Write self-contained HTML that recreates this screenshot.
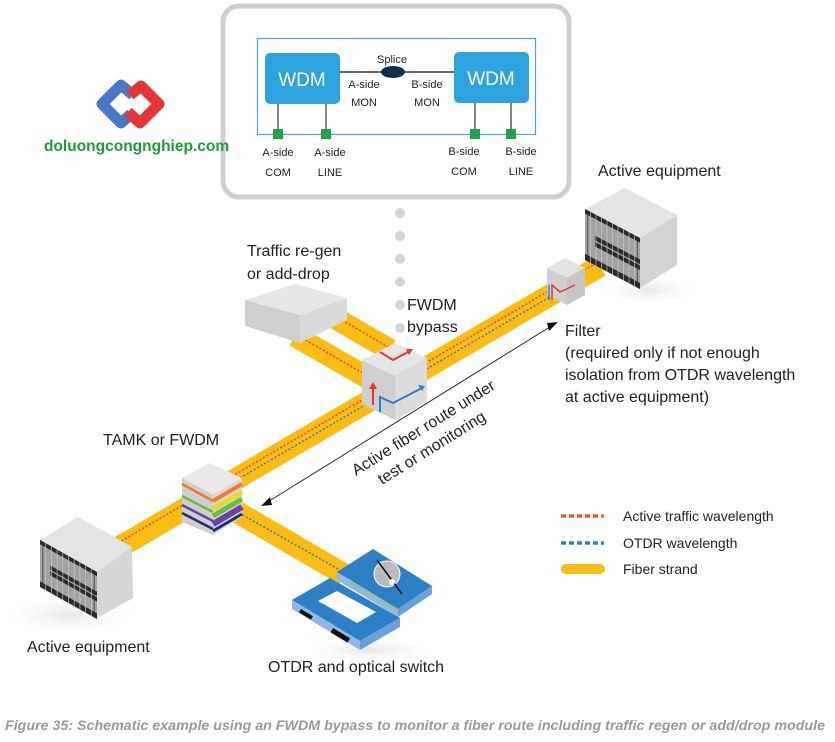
<!DOCTYPE html>
<html><head><meta charset="utf-8"><style>
html,body{margin:0;padding:0;background:#fff}
svg{display:block}
text{font-family:"Liberation Sans",sans-serif;fill:#222}
</style></head><body>
<svg width="835" height="742" viewBox="0 0 835 742" xmlns="http://www.w3.org/2000/svg">
<defs>
<g id="rack">
<rect x="0" y="0" width="100" height="100" fill="#a3a3a3"/>
<g fill="#2a2a2a">
<rect x="0" y="0" width="100" height="9"/>
<rect x="18" y="42" width="82" height="9"/>
<rect x="18" y="54" width="82" height="9"/>
<rect x="0" y="88" width="100" height="12"/>
</g>
<g stroke="#c8c8c8" stroke-width="1.2">
<line x1="10" y1="0" x2="10" y2="100"/><line x1="20" y1="0" x2="20" y2="100"/><line x1="30" y1="0" x2="30" y2="100"/><line x1="40" y1="0" x2="40" y2="100"/><line x1="50" y1="0" x2="50" y2="100"/><line x1="60" y1="0" x2="60" y2="100"/><line x1="70" y1="0" x2="70" y2="100"/><line x1="80" y1="0" x2="80" y2="100"/><line x1="90" y1="0" x2="90" y2="100"/>
</g>
<g stroke="#2a2a2a" stroke-width="1.2">
<line x1="5" y1="0" x2="5" y2="100"/><line x1="95" y1="0" x2="95" y2="100"/>
</g>
</g>
<radialGradient id="shd"><stop offset="0" stop-color="#e6e6e6"/><stop offset="1" stop-color="#fff" stop-opacity="0"/></radialGradient>
</defs>

<!-- top callout box -->
<rect x="223" y="6" width="346" height="191" rx="16" fill="#fff" stroke="#d0d0d0" stroke-width="5"/>
<rect x="257.5" y="38.5" width="278" height="96" fill="none" stroke="#4aa3dc" stroke-width="1.2"/>
<line x1="339" y1="72" x2="454" y2="72" stroke="#333" stroke-width="1.5"/>
<rect x="265" y="53" width="75" height="51" rx="5" fill="#2ca3df"/>
<rect x="454" y="52" width="75" height="51" rx="5" fill="#2ca3df"/>
<text x="302" y="86" font-size="19" text-anchor="middle" style="fill:#fff">WDM</text>
<text x="491" y="85" font-size="19" text-anchor="middle" style="fill:#fff">WDM</text>
<ellipse cx="393" cy="72" rx="12" ry="6" fill="#0e2f4f"/>
<text x="392" y="63" font-size="11" text-anchor="middle">Splice</text>
<text x="364" y="88" font-size="11" text-anchor="middle">A-side</text>
<text x="364" y="106" font-size="11" text-anchor="middle">MON</text>
<text x="427" y="88" font-size="11" text-anchor="middle">B-side</text>
<text x="427" y="106" font-size="11" text-anchor="middle">MON</text>
<g stroke="#333" stroke-width="1.2">
<line x1="278" y1="104" x2="278" y2="131"/><line x1="326" y1="104" x2="326" y2="131"/>
<line x1="475" y1="103" x2="475" y2="131"/><line x1="511" y1="103" x2="511" y2="131"/>
</g>
<g fill="#1fa34a">
<rect x="273" y="129" width="10" height="10"/><rect x="321" y="129" width="10" height="10"/>
<rect x="470" y="129" width="10" height="10"/><rect x="506" y="129" width="10" height="10"/>
</g>
<g font-size="11" text-anchor="middle">
<text x="278" y="156">A-side</text><text x="278" y="176">COM</text>
<text x="330" y="156">A-side</text><text x="330" y="176">LINE</text>
<text x="464" y="155">B-side</text><text x="464" y="175">COM</text>
<text x="521" y="155">B-side</text><text x="521" y="175">LINE</text>
</g>

<!-- logo -->
<polyline points="133,95 121,85 102,104 121,123 131,114" fill="none" stroke="#4a78c9" stroke-width="11" stroke-linejoin="round"/>
<polyline points="130,95 141,86 159,104 140,123 128,112" fill="none" stroke="#e53434" stroke-width="11" stroke-linejoin="round"/>
<text x="44" y="151" font-size="15.5" font-weight="bold" style="fill:#1e9b3c">doluongcongnghiep.com</text>

<!-- dotted connector -->
<g fill="#d4d4d4">
<circle cx="400" cy="213" r="5"/><circle cx="400" cy="236" r="5"/><circle cx="400" cy="259" r="5"/><circle cx="400" cy="282" r="5"/><circle cx="400" cy="305" r="5"/><circle cx="400" cy="328" r="5"/>
</g>

<!-- shadows -->
<ellipse cx="70" cy="615" rx="70" ry="22" fill="url(#shd)"/>
<ellipse cx="370" cy="650" rx="70" ry="14" fill="url(#shd)"/>
<ellipse cx="650" cy="290" rx="50" ry="16" fill="url(#shd)"/>

<!-- fiber strands -->
<g stroke="#fbbd14" stroke-width="22" fill="none">
<line x1="118" y1="548" x2="600" y2="266"/>
<line x1="225" y1="505" x2="345" y2="575"/>
<line x1="335" y1="318" x2="390" y2="350"/>
<line x1="295" y1="336" x2="368" y2="378"/>
</g>
<g stroke="#e8432e" stroke-width="1.5" stroke-dasharray="2,2" fill="none">
<line x1="118" y1="543" x2="600" y2="261"/>
<line x1="335" y1="316" x2="390" y2="348"/>
<line x1="295" y1="334" x2="368" y2="376"/>
</g>
<g stroke="#2f7fcf" stroke-width="1.5" stroke-dasharray="2,2" fill="none">
<line x1="240" y1="478" x2="560" y2="291"/>
<line x1="225" y1="505" x2="340" y2="570"/>
</g>

<!-- left equipment -->
<polygon points="40,540 78,517 132,547 97,572" fill="#e4e4e4"/>
<polygon points="97,572 132,547 133,598 97,618" fill="#d6d6d6"/>
<use href="#rack" transform="matrix(0.57,0.32,0,0.47,40,540)"/>

<!-- right equipment -->
<polygon points="585,209 625,188 677,215 640,238" fill="#e4e4e4"/>
<polygon points="640,238 677,215 677,265 640,288" fill="#d4d4d4"/>
<use href="#rack" transform="matrix(0.55,0.29,0,0.51,585,209)"/>

<!-- filter box -->
<polygon points="547,268 565,258 585,268 567,278" fill="#e2e2e2"/>
<polygon points="547,268 567,278 567,305 547,295" fill="#d0d0d0"/>
<polygon points="567,278 585,268 585,295 567,305" fill="#c6c6c6"/>
<polyline points="552,300 552,285 560,292 575,285" fill="none" stroke="#e8333a" stroke-width="1.5"/>
<line x1="549" y1="300" x2="549" y2="285" stroke="#2f7fcf" stroke-width="1.5"/>

<!-- traffic box -->
<polygon points="245,300 295,284 347,298 300,315" fill="#e6e6e6"/>
<polygon points="245,300 300,315 300,343 245,326" fill="#cfcfcf"/>
<polygon points="300,315 347,298 347,320 300,343" fill="#dadada"/>

<!-- FWDM cube -->
<polygon points="362,360 395,343 427,358 395,376" fill="#e6e6e6"/>
<polygon points="362,360 395,376 395,420 362,404" fill="#cfcfcf"/>
<polygon points="395,376 427,358 427,402 395,420" fill="#dcdcdc"/>
<polyline points="380,352 393,360 408,352" fill="none" stroke="#e8333a" stroke-width="2"/>
<polygon points="406,349 413,349 409,355" fill="#e8333a"/>
<polyline points="373,405 373,387" fill="none" stroke="#e8333a" stroke-width="2"/>
<polygon points="369,389 377,389 373,382" fill="#e8333a"/>
<polyline points="380,412 380,397 393,403 422,388" fill="none" stroke="#2f7fcf" stroke-width="2"/>
<polygon points="418,385 425,386 422,391" fill="#2f7fcf"/>

<!-- TAMK cube -->
<polygon points="182,478 210,463 242,478 213,495" fill="#e8e8e8"/>
<polygon points="182,478 213,495 213,535 182,522" fill="#cfcfcf"/>
<polygon points="213,495 242,478 242,517 213,535" fill="#d8d8d8"/>
<g stroke-width="2.5">
<line x1="182" y1="484" x2="213" y2="501" stroke="#f07a2a"/>
<line x1="182" y1="496" x2="213" y2="512" stroke="#6cbd3c"/>
<line x1="182" y1="505" x2="213" y2="521" stroke="#6b3fa8"/>
<line x1="182" y1="513" x2="213" y2="529" stroke="#22306e"/>
<line x1="213" y1="501" x2="242" y2="484" stroke="#f07a2a" stroke-width="4"/>
<line x1="213" y1="509" x2="242" y2="492" stroke="#e8d92a" stroke-width="5"/>
<line x1="213" y1="516" x2="242" y2="499" stroke="#6cbd3c" stroke-width="5"/>
<line x1="213" y1="524" x2="242" y2="507" stroke="#6b3fa8" stroke-width="6"/>
<line x1="213" y1="531" x2="242" y2="514" stroke="#22306e" stroke-width="3"/>
</g>

<!-- OTDR switch -->
<polygon points="337,572 373,549 432,586 398,609" fill="#2d7fc6"/>
<polygon points="337,572 398,609 398,617 337,580" fill="#8fb8e6"/>
<polygon points="398,609 432,586 432,594 398,617" fill="#6aa0d8"/>
<circle cx="387" cy="574" r="13" fill="#bbb" stroke="#fff" stroke-width="1"/>
<line x1="377" y1="560" x2="402" y2="594" stroke="#111" stroke-width="1.5"/>
<circle cx="392" cy="582" r="3" fill="#fff"/>
<line x1="352" y1="583" x2="398" y2="611" stroke="#9c4" stroke-width="2" stroke-dasharray="2,1"/>
<!-- OTDR -->
<polygon points="292,600 330,578 400,618 360,641" fill="#2d7fc6"/>
<polygon points="292,600 360,641 360,650 292,609" fill="#8fb8e6"/>
<polygon points="360,641 400,618 400,627 360,650" fill="#6aa0d8"/>
<polygon points="318,601 337,591 376,612 357,623" fill="#fff"/>
<g fill="#111"><rect x="301" y="609" width="14" height="4" transform="rotate(31 301 609)"/><rect x="333" y="628" width="20" height="5" transform="rotate(31 333 628)"/></g>

<!-- double arrow -->
<line x1="266" y1="503" x2="553" y2="325" stroke="#222" stroke-width="1"/>
<polygon points="261,506 270,497 272,505" fill="#111"/>
<polygon points="558,322 549,331 547,323" fill="#111"/>
<text transform="translate(356,476) rotate(-32)" font-size="16">Active fiber route under</text>
<text transform="translate(382,485) rotate(-32)" font-size="16">test or monitoring</text>

<!-- labels -->
<g font-size="16">
<text x="598" y="176">Active equipment</text>
<text x="247" y="256">Traffic re-gen</text>
<text x="247" y="279">or add-drop</text>
<text x="407" y="310">FWDM</text>
<text x="407" y="332">bypass</text>
<text x="565" y="336">Filter</text>
<text x="565" y="358">(required only if not enough</text>
<text x="565" y="380">isolation from OTDR wavelength</text>
<text x="565" y="402">at active equipment)</text>
<text x="103" y="445">TAMK or FWDM</text>
<text x="27" y="652">Active equipment</text>
<text x="268" y="672">OTDR and optical switch</text>
</g>

<!-- legend -->
<line x1="561" y1="516" x2="604" y2="516" stroke="#ef5a2a" stroke-width="3.5" stroke-dasharray="5,3"/>
<line x1="561" y1="543" x2="604" y2="543" stroke="#2f7fcf" stroke-width="3.5" stroke-dasharray="5,3"/>
<line x1="566" y1="569" x2="600" y2="569" stroke="#fbbd14" stroke-width="10" stroke-linecap="round"/>
<g font-size="14"><text x="623" y="521">Active traffic wavelength</text><text x="623" y="548">OTDR wavelength</text><text x="623" y="574">Fiber strand</text></g>

<text x="5" y="730" font-size="13.5" font-weight="bold" font-style="italic" textLength="820" lengthAdjust="spacingAndGlyphs" style="fill:#9a9a9a">Figure 35: Schematic example using an FWDM bypass to monitor a fiber route including traffic regen or add/drop module</text>
</svg>
</body></html>
